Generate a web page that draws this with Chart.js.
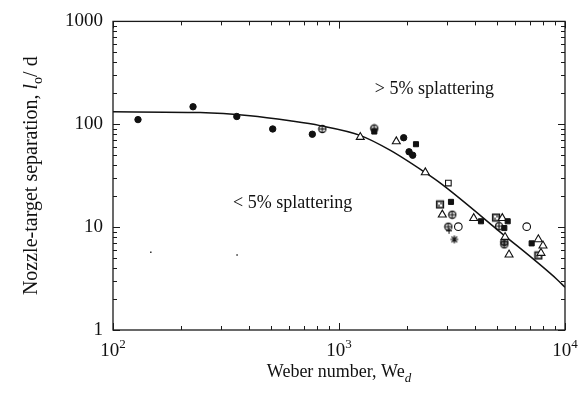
<!DOCTYPE html>
<html>
<head>
    <title></title>
    <script src="https://cdn.jsdelivr.net/npm/chart.js@4/dist/chart.umd.min.js"></script>
    <style>
        body { margin: 0; background: #fff; }
    </style>
</head>
<body>
    <canvas id="myChart" width="585" height="402"></canvas>
    <script>
        // fitted curve
        var curveWe = [100, 243, 404, 607, 824, 1239, 1681, 2403, 2857, 5152, 9220, 10000];
        var curveL = [132, 130, 121, 108, 97, 78, 56, 34, 26, 9.0, 3.1, 2.6];

        // measured points, one pair of arrays per marker
        var dotWe = [129, 226, 353, 509, 762, 1933, 2041, 2119];
        var dotL = [111, 148, 119, 90, 80, 74, 54, 50];
        var circPlusWe = [844, 1433, 3172, 3047, 5105, 5389, 5389];
        var circPlusL = [90, 91, 13.2, 10.1, 10.2, 7.2, 6.8];
        var sqFillWe = [1433, 2191, 3130, 4249, 5577, 5389, 7120];
        var sqFillL = [85, 64, 17.6, 11.4, 11.4, 9.8, 6.95];
        var triWe = [1242, 1793, 2409, 2865, 3945, 5279, 5430, 5655, 7620, 7990, 7830];
        var triL = [75, 68, 34, 13.2, 12.2, 12.2, 8.0, 5.4, 7.6, 6.6, 5.6];
        var sqOpenWe = [3047];
        var sqOpenL = [26.8];
        var sqHatchWe = [2799, 4953, 7620];
        var sqHatchL = [16.6, 12.4, 5.3];
        var circOpenWe = [3373, 6770];
        var circOpenL = [10.1, 10.1];
        var starWe = [3238];
        var starL = [7.6];
        var plusWe = [3069];
        var plusL = [9.2];
        var specWe = [147, 354];
        var specL = [5.7, 5.35];

        var xTicks = [100, 1000, 10000];
        var yTicks = [1, 10, 100, 1000];

        var serif = '"Liberation Serif", "Times New Roman", serif';

        function pts(xs, ys) {
            return xs.map(function(x, i) { return {x: x, y: ys[i]}; });
        }

        // little canvases for the odd symbols
        function mark(kind) {
            var c = document.createElement('canvas');
            c.width = 10; c.height = 10;
            var g = c.getContext('2d');
            g.strokeStyle = '#111'; g.fillStyle = '#111'; g.lineWidth = 1.2;
            if (kind == 'circplus') {
                g.beginPath(); g.arc(5, 5, 3.6, 0, Math.PI * 2); g.stroke();
                g.beginPath(); g.moveTo(1.5, 5); g.lineTo(8.5, 5); g.moveTo(5, 1.5); g.lineTo(5, 8.5); g.stroke();
            } else if (kind == 'hatch') {
                g.fillStyle = '#777'; g.fillRect(1.5, 1.5, 7, 7);
                g.fillStyle = '#fff'; g.fillRect(3, 3, 2, 2); g.fillRect(5, 5, 2, 2);
                g.strokeRect(1.5, 1.5, 7, 7);
            } else if (kind == 'star') {
                g.beginPath();
                for (var k = 0; k < 4; k++) {
                    var t = k * Math.PI / 4;
                    g.moveTo(5 - 4 * Math.cos(t), 5 - 4 * Math.sin(t));
                    g.lineTo(5 + 4 * Math.cos(t), 5 + 4 * Math.sin(t));
                }
                g.stroke();
            }
            return c;
        }

        function drawSub(c, parts, x, y) {
            // parts: [text, font, dy]
            parts.forEach(function(p) {
                c.font = p[1];
                c.fillText(p[0], x, y + (p[2] || 0));
                x += c.measureText(p[0]).width;
            });
        }
        function subWidth(c, parts) {
            var w = 0;
            parts.forEach(function(p) { c.font = p[1]; w += c.measureText(p[0]).width; });
            return w;
        }

        var frame = {
            id: 'frame',
            afterDraw: function(chart) {
                var c = chart.ctx, a = chart.chartArea;
                var xs = chart.scales.x, ys = chart.scales.y;
                c.save();
                c.strokeStyle = '#1a1a1a';
                c.lineWidth = 1.3;
                c.strokeRect(a.left, a.top, a.right - a.left, a.bottom - a.top);

                c.lineWidth = 1;
                c.beginPath();
                [100, 1000].forEach(function(d) {
                    for (var k = 1; k <= 10; k++) {
                        var px = Math.round(xs.getPixelForValue(d * k)) + 0.5;
                        var len = (k == 1 || k == 10) ? 7 : 4;
                        c.moveTo(px, a.bottom); c.lineTo(px, a.bottom - len);
                        c.moveTo(px, a.top); c.lineTo(px, a.top + len);
                    }
                });
                [1, 10, 100].forEach(function(d) {
                    for (var k = 1; k <= 10; k++) {
                        var py = Math.round(ys.getPixelForValue(d * k)) + 0.5;
                        var len = (k == 1 || k == 10) ? 7 : 4;
                        c.moveTo(a.left, py); c.lineTo(a.left + len, py);
                        c.moveTo(a.right, py); c.lineTo(a.right - len, py);
                    }
                });
                c.stroke();

                c.fillStyle = '#111';
                c.textBaseline = 'alphabetic';
                c.textAlign = 'left';

                // x tick labels 10^n
                xTicks.forEach(function(v) {
                    var e = String(Math.round(Math.log10(v)));
                    var parts = [['10', '19px ' + serif, 0], [e, '13px ' + serif, -8]];
                    var w = subWidth(c, parts);
                    drawSub(c, parts, xs.getPixelForValue(v) - w / 2, a.bottom + 26);
                });

                // axis titles
                var xt = [['Weber number, We', '18px ' + serif, 0], ['d', 'italic 13px ' + serif, 5]];
                var xw = subWidth(c, xt);
                drawSub(c, xt, (a.left + a.right) / 2 - xw / 2, a.bottom + 47);

                var yt = [['Nozzle-target separation, ', '20px ' + serif, 0], ['l', 'italic 20px ' + serif, 0],
                          ['o', '14px ' + serif, 5], ['/ d', '20px ' + serif, 0]];
                var yw = subWidth(c, yt);
                c.save();
                c.translate(37, (a.top + a.bottom) / 2);
                c.rotate(-Math.PI / 2);
                drawSub(c, yt, -yw / 2, 0);
                c.restore();

                // region notes
                c.font = '18px ' + serif;
                c.fillText('> 5% splattering', xs.getPixelForValue(1440), ys.getPixelForValue(195));
                c.fillText('< 5% splattering', xs.getPixelForValue(340), ys.getPixelForValue(15.2));
                c.restore();
            }
        };

        var chart = new Chart(document.getElementById('myChart'), {
            type: 'scatter',
            data: {
                datasets: [
                    {data: pts(dotWe, dotL), pointStyle: 'circle', pointRadius: 3.2, backgroundColor: '#111', borderColor: '#111', borderWidth: 1},
                    {data: pts(sqFillWe, sqFillL), pointStyle: 'rect', pointRadius: 3.6, backgroundColor: '#111', borderColor: '#111', borderWidth: 1},
                    {data: pts(triWe, triL), pointStyle: 'triangle', pointRadius: 4.6, backgroundColor: '#fff', borderColor: '#111', borderWidth: 1.1},
                    {data: pts(sqOpenWe, sqOpenL), pointStyle: 'rect', pointRadius: 4, backgroundColor: '#fff', borderColor: '#111', borderWidth: 1.1},
                    {data: pts(circOpenWe, circOpenL), pointStyle: 'circle', pointRadius: 3.8, backgroundColor: '#fff', borderColor: '#111', borderWidth: 1.1},
                    {data: pts(circPlusWe, circPlusL), pointStyle: mark('circplus')},
                    {data: pts(sqHatchWe, sqHatchL), pointStyle: mark('hatch')},
                    {data: pts(starWe, starL), pointStyle: mark('star')},
                    {data: pts(plusWe, plusL), pointStyle: 'cross', pointRadius: 3, borderColor: '#111', borderWidth: 1},
                    {data: pts(specWe, specL), pointStyle: 'rect', pointRadius: 1, backgroundColor: '#222', borderColor: '#222', borderWidth: 0},
                    {data: pts(curveWe, curveL), showLine: true, pointRadius: 0, borderColor: '#111', borderWidth: 1.5,
                     cubicInterpolationMode: 'monotone', fill: false}
                ]
            },
            options: {
                responsive: false,
                animation: false,
                devicePixelRatio: 1,
                layout: {padding: {top: 13, right: 20, left: 0, bottom: 0}},
                plugins: {legend: {display: false}, tooltip: {enabled: false}},
                scales: {
                    x: {
                        type: 'logarithmic', min: 100, max: 10000,
                        grid: {display: false, drawTicks: false}, border: {display: false},
                        ticks: {display: false},
                        afterBuildTicks: function(s) { s.ticks = xTicks.map(function(v) { return {value: v}; }); },
                        afterFit: function(s) { s.height = 72; }
                    },
                    y: {
                        type: 'logarithmic', min: 1, max: 1000,
                        grid: {display: false, drawTicks: false}, border: {display: false},
                        ticks: {
                            padding: 10, color: '#111', font: {family: serif, size: 19},
                            callback: function(v) { return String(v); }
                        },
                        afterBuildTicks: function(s) { s.ticks = yTicks.map(function(v) { return {value: v}; }); },
                        afterFit: function(s) { s.width = 113; }
                    }
                }
            },
            plugins: [frame]
        });
    </script>
</body>
</html>
